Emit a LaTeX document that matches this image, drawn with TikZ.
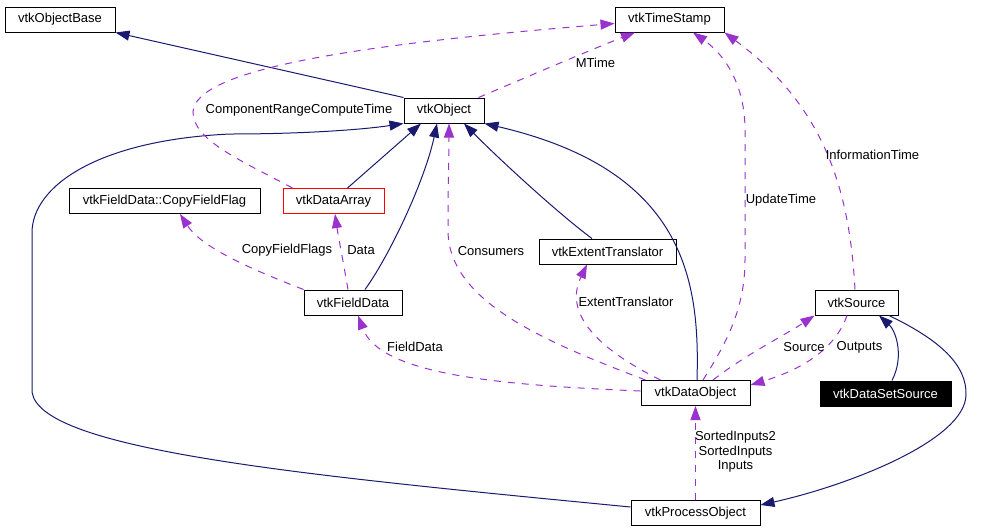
\documentclass[tikz,border=0pt]{standalone}
\usepackage{fontspec}
\setmainfont{Liberation Sans}
\usetikzlibrary{arrows.meta}
\definecolor{navyedge}{RGB}{25,25,112}
\definecolor{orchid}{RGB}{154,50,205}

\begin{document}
\begin{tikzpicture}[
    x=1pt, y=-1pt,
    font=\fontsize{13}{14.5}\selectfont,
    cls/.style={
        rectangle, draw=black, line width=1pt, fill=white,
        minimum height=25pt, inner sep=0pt, align=center
    },
    edgelbl/.style={inner sep=0pt, align=center},
    inherit/.style={navyedge, line width=1pt, -{Triangle[length=14pt, width=10pt]}},
    usage/.style={orchid, line width=1pt, dash pattern=on 7pt off 7pt,
        -{Triangle[length=14pt, width=10pt]}}
]
\useasboundingbox (0,0) rectangle (1005,531);

% ---------------- Classes ----------------
\node[cls, minimum width=110pt] (base) at (60,19.5) {vtkObjectBase};
\node[cls, minimum width=109pt] (ts) at (669.5,19.5) {vtkTimeStamp};
\node[cls, minimum width=80pt] (obj) at (444,110.5) {vtkObject};
\node[cls, minimum width=191pt] (cff) at (164.5,201) {vtkFieldData::CopyFieldFlag};
\node[cls, draw=red, minimum width=101pt] (darr) at (333.5,201) {vtkDataArray};
\node[cls, minimum width=98pt] (fdata) at (353,302.5) {vtkFieldData};
\node[cls, minimum width=137pt] (ext) at (607.5,251.5) {vtkExtentTranslator};
\node[cls, minimum width=83pt] (src) at (856.5,302.5) {vtkSource};
\node[cls, minimum width=109pt] (dobj) at (695.5,393) {vtkDataObject};
\node[cls, fill=black, text=white, minimum width=131pt] (dss) at (885.5,393.5) {vtkDataSetSource};
\node[cls, minimum width=129pt] (pobj) at (695.5,513) {vtkProcessObject};

% ---------------- Inheritance ----------------
\draw[inherit] (obj.north west) -- (base.south east);
\draw[inherit] ([xshift=14pt]darr.north) -- ([xshift=-23pt]obj.south);
\draw[inherit] ([xshift=12pt]fdata.north) .. controls (390,255) and (425,180) .. ([xshift=-7pt]obj.south);
\draw[inherit] ([xshift=-15.5pt]ext.north) .. controls (560,215) and (500,160) .. ([xshift=20pt]obj.south);
\draw[inherit] ([xshift=1.5pt]dobj.north) .. controls (700,280) and (685,170) .. (obj.south east);
\draw[inherit] ([yshift=6pt]pobj.west) .. controls (300,475) and (40,450) .. (32,392) -- (32,233)
    .. controls (32,185) and (100,140) .. (230,134) .. controls (300,134) and (360,130) .. (obj.south west);
\draw[inherit] ([xshift=6.5pt]dss.north) .. controls (905,355) and (895,330) .. ([xshift=22.5pt]src.south);
\draw[inherit] ([xshift=32.5pt]src.south) .. controls (940,340) and (967,365) .. (966,395)
    .. controls (965,440) and (850,485) .. ([yshift=8pt]pobj.east);

% ---------------- Usage ----------------
\draw[usage] ([xshift=10pt]darr.north west) .. controls (240,160) and (193,140) .. (193,112)
    .. controls (195,70) and (350,45) .. ([yshift=-4pt]ts.west);
\draw[usage] ([xshift=-6pt]obj.north east) .. controls (520,80) and (590,50) .. ([xshift=-34.5pt]ts.south);
\draw[usage] ([xshift=7.5pt]dobj.north) .. controls (725,345) and (745,310) .. (745,260) -- (745,130)
    .. controls (745,85) and (725,55) .. ([xshift=23.5pt]ts.south);
\draw[usage] ([xshift=-1.5pt]src.north) .. controls (850,200) and (830,110) .. (ts.south east);
\draw[usage] (fdata.north west) .. controls (240,265) and (200,245) .. ([xshift=15.5pt]cff.south);
\draw[usage] ([xshift=-5pt]fdata.north) .. controls (343,260) and (338,235) .. ([xshift=1.5pt]darr.south);
\draw[usage] ([xshift=5pt]dobj.north west) .. controls (540,340) and (448,300) .. (448,230)
    .. controls (448,180) and (449,150) .. ([xshift=5pt]obj.south);
\draw[usage] ([yshift=2pt]dobj.west) .. controls (500,385) and (380,375) .. ([xshift=5pt]fdata.south);
\draw[usage] ([xshift=20pt]dobj.north west) .. controls (590,345) and (565,310) .. ([xshift=-20.5pt]ext.south);
\draw[usage] ([xshift=17.5pt]dobj.north) .. controls (745,355) and (785,335) .. (src.south west);
\draw[usage] ([xshift=-9.5pt]src.south) .. controls (835,350) and (800,370) .. ([yshift=8pt]dobj.east);
\draw[usage] (pobj.north) -- (dobj.south);

% ---------------- Edge labels ----------------
\node[edgelbl] (l_crct) at (299,110) {ComponentRangeComputeTime};
\node[edgelbl] (l_mtime) at (595.5,63) {MTime};
\node[edgelbl] (l_update) at (781,200) {UpdateTime};
\node[edgelbl] (l_info) at (872.5,155) {InformationTime};
\node[edgelbl] (l_cff) at (287,250) {CopyFieldFlags};
\node[edgelbl] (l_data) at (361,250) {Data};
\node[edgelbl] (l_cons) at (491,251) {Consumers};
\node[edgelbl] (l_fdata) at (415,347) {FieldData};
\node[edgelbl] (l_ext) at (626,302) {ExtentTranslator};
\node[edgelbl] (l_src) at (804,347) {Source};
\node[edgelbl] (l_out) at (859.5,347) {Outputs};
\node[edgelbl] (l_inputs) at (735.5,452) {SortedInputs2\\SortedInputs\\Inputs};

\end{tikzpicture}
\end{document}
